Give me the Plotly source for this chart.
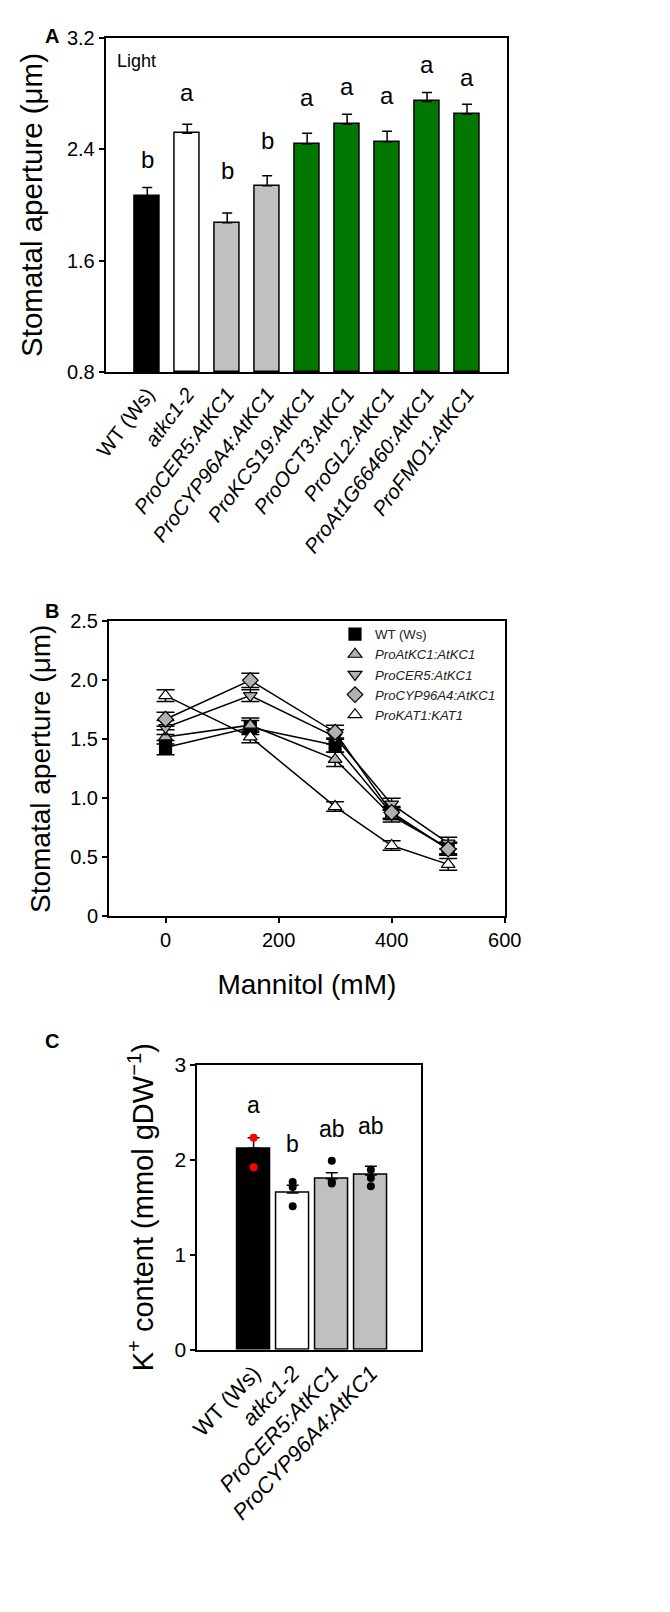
import plotly.graph_objects as go

FONT = "Arial, Liberation Sans, sans-serif"
W, H = 670, 1612

# ---------------- Panel A data ----------------
a_labels = ["WT (Ws)", "<i>atkc1-2</i>", "<i>ProCER5:AtKC1</i>", "<i>ProCYP96A4:AtKC1</i>",
            "<i>ProKCS19:AtKC1</i>", "<i>ProOCT3:AtKC1</i>", "<i>ProGL2:AtKC1</i>",
            "<i>ProAt1G66460:AtKC1</i>", "<i>ProFMO1:AtKC1</i>"]
a_values = [2.066, 2.515, 1.872, 2.138, 2.438, 2.580, 2.455, 2.744, 2.654]
a_errors = [0.060, 0.065, 0.070, 0.072, 0.077, 0.072, 0.075, 0.065, 0.070]
a_colors = ["#000000", "#ffffff", "#c0c0c0", "#c0c0c0", "#007800", "#007800", "#007800", "#007800", "#007800"]
a_letters = ["b", "a", "b", "b", "a", "a", "a", "a", "a"]
a_letter_y = [2.328, 2.811, 2.249, 2.465, 2.775, 2.854, 2.789, 3.013, 2.919]
a_yticks = [0.8, 1.6, 2.4, 3.2]

# ---------------- Panel B data ----------------
b_x = [0, 150, 300, 400, 500]
b_series = {
    "WT (Ws)": [1.43, 1.60, 1.45, 0.87, 0.57],
    "<i>ProAtKC1:AtKC1</i>": [1.52, 1.62, 1.33, 0.85, 0.58],
    "<i>ProCER5:AtKC1</i>": [1.60, 1.87, 1.52, 0.95, 0.62],
    "<i>ProCYP96A4:AtKC1</i>": [1.67, 2.00, 1.56, 0.88, 0.57],
    "<i>ProKAT1:KAT1</i>": [1.87, 1.52, 0.93, 0.60, 0.44],
}
b_err = {
    "WT (Ws)": [0.06, 0.06, 0.06, 0.05, 0.05],
    "<i>ProAtKC1:AtKC1</i>": [0.06, 0.06, 0.06, 0.05, 0.05],
    "<i>ProCER5:AtKC1</i>": [0.06, 0.05, 0.06, 0.05, 0.05],
    "<i>ProCYP96A4:AtKC1</i>": [0.06, 0.06, 0.06, 0.05, 0.05],
    "<i>ProKAT1:KAT1</i>": [0.05, 0.05, 0.04, 0.04, 0.05],
}
b_symbols = ["square", "triangle-up", "triangle-down", "diamond", "triangle-up"]
b_fill = ["#000000", "#b0b0b0", "#b0b0b0", "#b0b0b0", "#ffffff"]

# ---------------- Panel C data ----------------
c_labels = ["WT (Ws)", "<i>atkc1-2</i>", "<i>ProCER5:AtKC1</i>", "<i>ProCYP96A4:AtKC1</i>"]
c_values = [2.12, 1.65, 1.80, 1.84]
c_errors = [0.11, 0.08, 0.063, 0.09]
c_colors = ["#000000", "#ffffff", "#c0c0c0", "#c0c0c0"]
c_letters = ["a", "b", "ab", "ab"]
c_letter_y = [2.58, 2.17, 2.32, 2.35]
c_points = [[2.23, 1.92], [1.765, 1.712, 1.51], [1.99, 1.77, 1.75], [1.895, 1.807, 1.72]]
c_point_colors = ["#ff0000", "#000000", "#000000", "#000000"]


def xd(px):
    return px / W


def yd(py):
    return 1 - py / H


fig = go.Figure()

# ----- Panel A -----
a_x = list(range(len(a_labels)))
fig.add_trace(go.Bar(
    x=a_x, y=[v - 0.8 for v in a_values], base=0.8, width=0.62,
    marker=dict(color=a_colors, line=dict(color="black", width=1.5)),
    error_y=dict(type="data", symmetric=False, array=a_errors, arrayminus=[0] * len(a_errors),
                 color="black", thickness=1.5, width=5),
    xaxis="x", yaxis="y", showlegend=False,
))
for i, (ly, l) in enumerate(zip(a_letter_y, a_letters)):
    fig.add_annotation(x=i, y=ly, text=l, showarrow=False, yanchor="middle",
                       xref="x", yref="y", font=dict(size=24, color="black", family=FONT))
fig.add_annotation(x=0.022, y=0.93, xref="x domain", yref="y domain", text="Light", showarrow=False,
                   xanchor="left", yanchor="middle", font=dict(size=18, color="black", family=FONT))

# ----- Panel B -----
for k, (name, vals) in enumerate(b_series.items()):
    fig.add_trace(go.Scatter(
        x=b_x, y=vals, mode="lines+markers",
        line=dict(color="black", width=1.5),
        marker=dict(symbol=b_symbols[k], size=12, color=b_fill[k], line=dict(color="black", width=1.2)),
        error_y=dict(type="data", array=b_err[name], color="black", thickness=1.5, width=9),
        xaxis="x2", yaxis="y2", showlegend=False,
    ))
for k, name in enumerate(b_series.keys()):
    fig.add_trace(go.Scatter(
        x=[None], y=[None], mode="markers", name=name, legendgroup="g%d" % k,
        marker=dict(symbol=b_symbols[k], size=12, color=b_fill[k], line=dict(color="black", width=1.2)),
        xaxis="x2", yaxis="y2", showlegend=True,
    ))

# ----- Panel C -----
c_x = list(range(len(c_labels)))
fig.add_trace(go.Bar(
    x=c_x, y=c_values, width=0.83,
    marker=dict(color=c_colors, line=dict(color="black", width=1.5)),
    error_y=dict(type="data", symmetric=False, array=c_errors, arrayminus=[0] * len(c_errors),
                 color="black", thickness=1.5, width=6),
    xaxis="x3", yaxis="y3", showlegend=False,
))
for i, pts in enumerate(c_points):
    fig.add_trace(go.Scatter(
        x=[i] * len(pts), y=pts, mode="markers",
        marker=dict(size=8, color=c_point_colors[i]),
        xaxis="x3", yaxis="y3", showlegend=False,
    ))
for i, (l, ly) in enumerate(zip(c_letters, c_letter_y)):
    fig.add_annotation(x=i, y=ly, text=l, showarrow=False, xref="x3", yref="y3",
                       font=dict(size=23, color="black", family=FONT))

# panel letters
for txt, px, py in [("A", 35, 15), ("B", 35, 603), ("C", 35, 1033)]:
    fig.add_annotation(x=xd(px), y=yd(py), xref="paper", yref="paper", text="<b>%s</b>" % txt,
                       showarrow=False, font=dict(size=20, color="black", family=FONT))

axis_common = dict(showline=True, mirror=True, linecolor="black", linewidth=2, showgrid=False,
                   zeroline=False, color="black", automargin=False)

fig.update_layout(
    template="none",
    width=W, height=H, margin=dict(l=0, r=0, t=0, b=0, pad=0, autoexpand=False),
    paper_bgcolor="white", plot_bgcolor="white",
    font=dict(family=FONT, color="black"),
    bargap=0,
    xaxis=dict(domain=[xd(97.7), xd(499)], range=[-1.04, 9.0], tickmode="array", tickvals=a_x,
               ticktext=a_labels, tickangle=-53, ticks="", tickfont=dict(size=20.5), anchor="y",
               **axis_common),
    yaxis=dict(domain=[yd(364), yd(30)], range=[0.8, 3.2], tickmode="array", tickvals=a_yticks,
               ticktext=["%.1f" % t for t in a_yticks], ticks="outside", ticklen=5, tickwidth=1.5,
               tickfont=dict(size=20), anchor="x",
               title=dict(text="Stomatal aperture (μm)", font=dict(size=29.5), standoff=16),
               **axis_common),
    xaxis2=dict(domain=[xd(101), xd(496.7)], range=[-100, 600], tickvals=[0, 200, 400, 600],
                ticks="outside", ticklen=5, tickwidth=1.5, tickfont=dict(size=20), anchor="y2",
                title=dict(text="Mannitol (mM)", font=dict(size=28), standoff=24),
                **axis_common),
    yaxis2=dict(domain=[yd(908.3), yd(613.3)], range=[0, 2.5], tickvals=[0, 0.5, 1.0, 1.5, 2.0, 2.5],
                ticktext=["0", "0.5", "1.0", "1.5", "2.0", "2.5"],
                ticks="outside", ticklen=5, tickwidth=1.5, tickfont=dict(size=20), anchor="x2",
                title=dict(text="Stomatal aperture (μm)", font=dict(size=28), standoff=11),
                **axis_common),
    xaxis3=dict(domain=[xd(189.3), xd(413.3)], range=[-1.44, 4.29], tickmode="array", tickvals=c_x,
                ticktext=c_labels, tickangle=-47, ticks="", tickfont=dict(size=22), anchor="y3",
                **axis_common),
    yaxis3=dict(domain=[yd(1341.7), yd(1056.7)], range=[0, 3], tickvals=[0, 1, 2, 3],
                ticks="outside", ticklen=5, tickwidth=1.5, tickfont=dict(size=21), anchor="x3",
                title=dict(text="K<sup>+</sup> content (mmol gDW<sup>−1</sup>)", font=dict(size=29), standoff=12),
                **axis_common),
    legend=dict(x=xd(327), y=yd(611), xanchor="left", yanchor="top", bgcolor="rgba(0,0,0,0)",
                font=dict(size=13.2, color="#222222", family=FONT), itemwidth=30, tracegroupgap=0),
)

fig.write_html("out.html")
